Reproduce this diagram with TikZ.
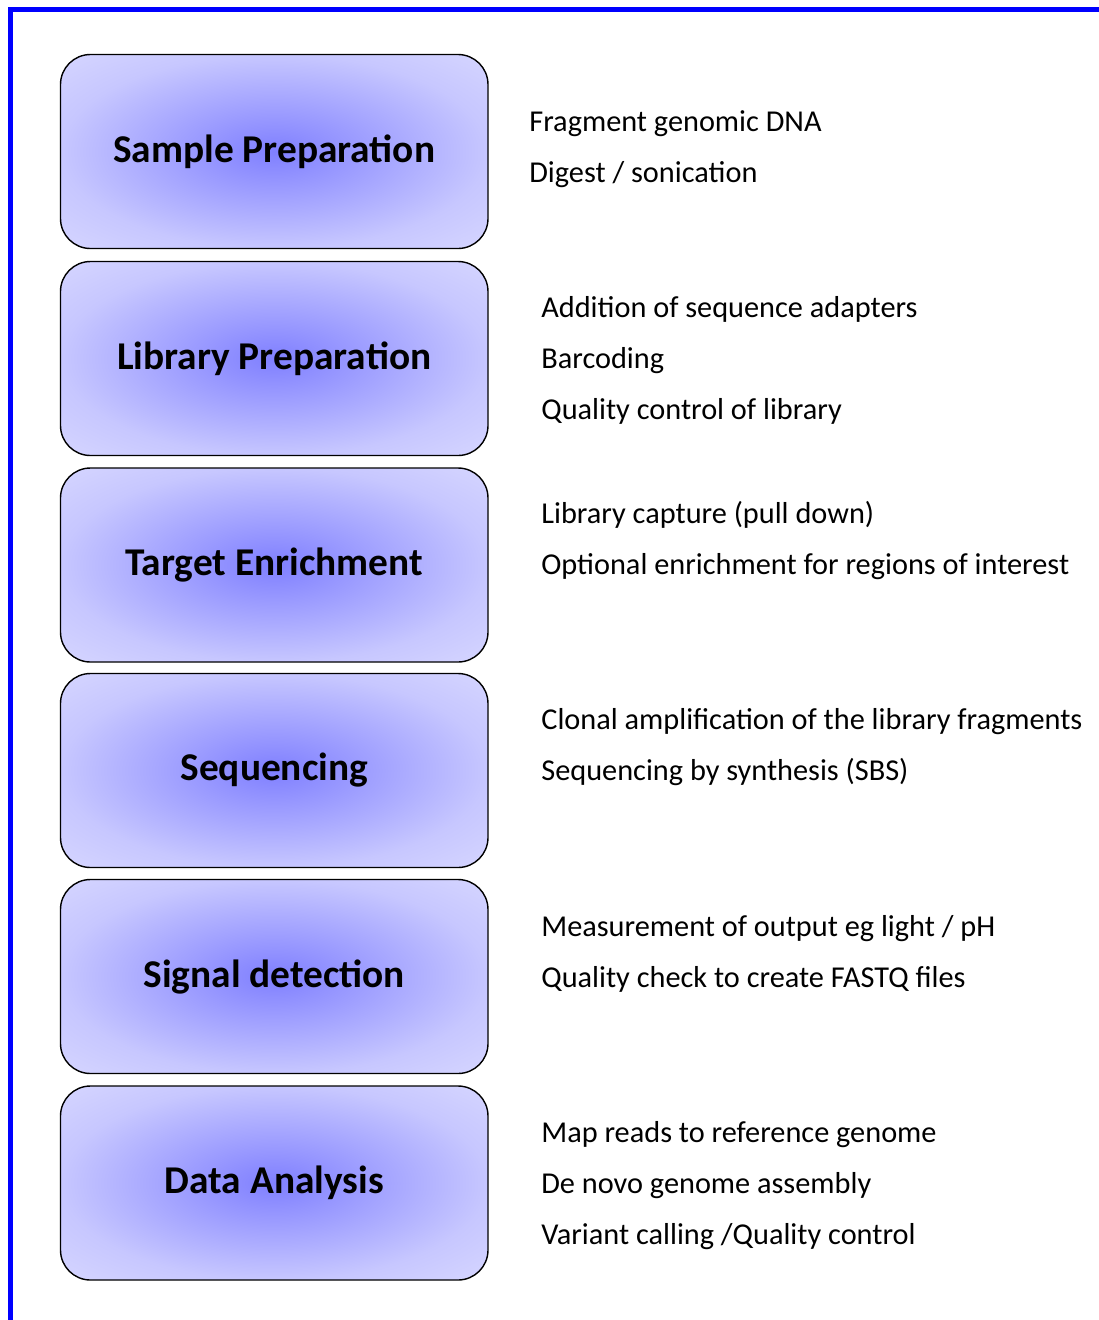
\documentclass[tikz,border=0pt]{standalone}
\usepackage{fontspec}
\setmainfont{Carlito}
\pgfdeclareradialshading{stageglow}{\pgfpoint{0bp}{0bp}}{%
  rgb(0bp)=(0.5,0.5,1); rgb(25bp)=(0.78,0.78,1); rgb(36bp)=(0.84,0.84,1); rgb(50bp)=(0.84,0.84,1)}
\tikzset{
  stage/.style={draw, line width=0.8pt, rounded corners=0.6cm, shading=stageglow,
    minimum width=8.55cm, minimum height=3.88cm, align=center,
    font=\fontsize{22.4}{26}\selectfont\bfseries},
  notes/.style={anchor=west, inner sep=0pt, align=left,
    font=\fontsize{17.25}{29}\selectfont}
}
\begin{document}
\begin{tikzpicture}[x=1cm,y=1cm]
\useasboundingbox (0,0) rectangle (21.98,-26.4);
\draw[blue, line width=0.1cm] (21.98,-0.19) -- (0.21,-0.19) -- (0.21,-26.4);

\node[stage] (sample) at (5.485,-3.03) {Sample Preparation};
\node[stage] (library) at (5.485,-7.17) {Library Preparation};
\node[stage] (target) at (5.485,-11.30) {Target Enrichment};
\node[stage] (seq) at (5.485,-15.41) {Sequencing};
\node[stage] (signal) at (5.485,-19.53) {Signal detection};
\node[stage] (data) at (5.485,-23.66) {Data Analysis};

\node[notes] (samplenotes) at (10.58,-2.99) {Fragment genomic DNA\\Digest / sonication};
\node[notes] (librarynotes) at (10.82,-7.20) {Addition of sequence adapters\\Barcoding\\Quality control of library};
\node[notes] (targetnotes) at (10.82,-10.81) {Library capture (pull down)\\Optional enrichment for regions of interest};
\node[notes] (seqnotes) at (10.82,-14.95) {Clonal amplification of the library fragments\\Sequencing by synthesis (SBS)};
\node[notes] (signalnotes) at (10.82,-19.07) {Measurement of output eg light / pH\\Quality check to create FASTQ files};
\node[notes] (datanotes) at (10.82,-23.72) {Map reads to reference genome\\De novo genome assembly\\Variant calling /Quality control};
\end{tikzpicture}
\end{document}
